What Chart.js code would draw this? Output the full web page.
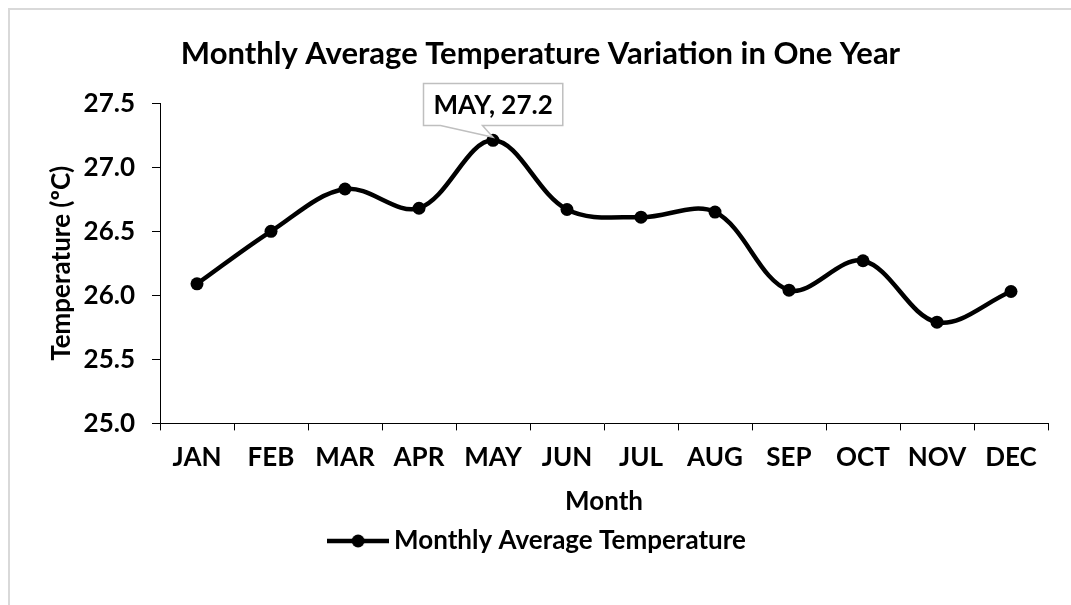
<!DOCTYPE html>
<html>
<head>
<meta charset="utf-8">
<script src="https://cdn.jsdelivr.net/npm/chart.js@4.4.1/dist/chart.umd.min.js"></script>
<style>
  html, body { margin: 0; padding: 0; background: #fff; overflow: hidden; }
  #wrap { position: absolute; left: 0; top: 0; width: 1071px; height: 605px; }
  #frame { position: absolute; left: 8px; top: 8px; width: 2000px; height: 2000px;
           border-left: 2px solid #d9d9d9; border-top: 2px solid #d9d9d9; pointer-events: none; }
  canvas { position: absolute; left: 0; top: 0; }
</style>
</head>
<body>
<div id="wrap">
  <canvas id="c" width="1071" height="605"></canvas>
  <div id="frame"></div>
</div>
<script>
const months = ['JAN','FEB','MAR','APR','MAY','JUN','JUL','AUG','SEP','OCT','NOV','DEC'];
const temperatures = [26.09, 26.50, 26.83, 26.68, 27.21, 26.67, 26.61, 26.65, 26.04, 26.27, 25.79, 26.03];
const seriesName = 'Monthly Average Temperature';
const chartTitle = 'Monthly Average Temperature Variation in One Year';
const xTitle = 'Month';
const yTitle = 'Temperature (\u00BAC)';
const yMin = 25.0, yMax = 27.5, yStep = 0.5;

const FONT = 'Lato';
const FS = 26;

// legend marker: line with circle
const legendMarker = document.createElement('canvas');
legendMarker.width = 62; legendMarker.height = 16;
(function () {
  const g = legendMarker.getContext('2d');
  g.strokeStyle = '#000'; g.lineWidth = 4.5;
  g.beginPath(); g.moveTo(0, 8); g.lineTo(62, 8); g.stroke();
  g.fillStyle = '#000';
  g.beginPath(); g.arc(31, 8, 6.5, 0, Math.PI * 2); g.fill();
})();

const calloutPlugin = {
  id: 'callout',
  afterDatasetsDraw(chart) {
    const meta = chart.getDatasetMeta(0);
    let idx = 0;
    temperatures.forEach((v, i) => { if (v > temperatures[idx]) idx = i; });
    const pt = meta.data[idx];
    const ctx = chart.ctx;
    const text = months[idx] + ', ' + temperatures[idx].toFixed(1);
    ctx.save();
    ctx.font = 'bold ' + FS + 'px ' + FONT;
    const w = ctx.measureText(text).width;
    const bw = w + 20, bh = 42;
    const left = Math.round(pt.x - bw / 2) + 0.5;
    const bottom = Math.round(pt.y - 15) + 0.5;
    const top = bottom - bh;
    const right = left + bw;
    ctx.beginPath();
    ctx.moveTo(left, top);
    ctx.lineTo(right, top);
    ctx.lineTo(right, bottom);
    ctx.lineTo(left + 59, bottom);
    ctx.lineTo(pt.x, pt.y - 3);
    ctx.lineTo(left + 17, bottom);
    ctx.lineTo(left, bottom);
    ctx.closePath();
    ctx.fillStyle = '#ffffff';
    ctx.fill();
    ctx.strokeStyle = '#bfbfbf';
    ctx.lineWidth = 1.5;
    ctx.stroke();
    ctx.fillStyle = '#000';
    ctx.textAlign = 'center';
    ctx.textBaseline = 'middle';
    ctx.fillText(text, (left + right) / 2, (top + bottom) / 2 + 1);
    ctx.restore();
  }
};

new Chart(document.getElementById('c'), {
  type: 'line',
  data: {
    labels: months,
    datasets: [{
      label: seriesName,
      data: temperatures,
      borderColor: '#000',
      backgroundColor: '#000',
      borderWidth: 4.5,
      tension: 0.35,
      pointRadius: 6.5,
      pointHoverRadius: 6.5,
      pointBackgroundColor: '#000',
      pointBorderWidth: 0,
      pointStyle: 'circle',
      fill: false
    }]
  },
  options: {
    responsive: false,
    animation: false,
    events: [],
    layout: { padding: { left: 10, right: 0, top: 0, bottom: 41 } },
    plugins: {
      title: {
        display: true,
        text: chartTitle,
        color: '#000',
        font: { family: FONT, size: 31, weight: 'bold' },
        padding: { top: 35, bottom: 31 }
      },
      legend: {
        display: true,
        position: 'bottom',
        labels: {
          color: '#000',
          font: { family: FONT, size: FS, weight: 'bold' },
          usePointStyle: true,
          pointStyleWidth: 46,
          padding: 11,
          generateLabels(chart) {
            return [{
              text: seriesName,
              pointStyle: legendMarker,
              fillStyle: '#000',
              strokeStyle: '#000',
              lineWidth: 0,
              datasetIndex: 0,
              hidden: false
            }];
          }
        }
      },
      tooltip: { enabled: false }
    },
    scales: {
      x: {
        type: 'category',
        offset: true,
        grid: { display: true, offset: true, drawOnChartArea: false, drawTicks: true, tickLength: 7, color: '#000', lineWidth: 1 },
        border: { display: true, color: '#000', width: 1 },
        ticks: { color: '#000', font: { family: FONT, size: FS, weight: 'bold' }, padding: 12, maxRotation: 0, autoSkip: false },
        title: { display: true, text: xTitle, color: '#000', font: { family: FONT, size: FS, weight: 'bold' }, padding: { top: 0, bottom: 0 } },
        afterFit(scale) { scale.height = 93.6; }
      },
      y: {
        type: 'linear',
        position: 'left',
        min: yMin, max: yMax,
        grid: { display: true, drawOnChartArea: false, drawTicks: true, tickLength: 8, color: '#000', lineWidth: 1 },
        border: { display: true, color: '#000', width: 1 },
        ticks: {
          stepSize: yStep, color: '#000', padding: 17,
          font: { family: FONT, size: FS, weight: 'bold' },
          callback: (v) => Number(v).toFixed(1)
        },
        title: { display: true, text: yTitle, color: '#000', font: { family: FONT, size: FS, weight: 'bold' }, padding: { top: 36, bottom: 0 } },
        afterFit(scale) { scale.width = 150; }
      },
      yRightSpace: {
        type: 'linear',
        position: 'right',
        display: true,
        grid: { display: false, drawTicks: false },
        border: { display: false },
        ticks: { display: false },
        afterFit(scale) { scale.width = 23; }
      }
    }
  },
  plugins: [calloutPlugin]
});
</script>
</body>
</html>
